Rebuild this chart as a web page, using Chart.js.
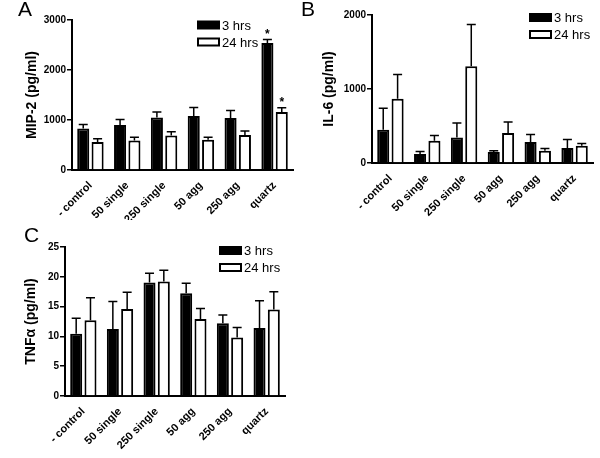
<!DOCTYPE html>
<html>
<head>
<meta charset="utf-8">
<script src="https://cdn.jsdelivr.net/npm/chart.js@4"></script>
<style>
  body { margin: 0; background: #fff; }
  #wrap { position: relative; width: 600px; height: 458px; background: #fff; font-family: "Liberation Sans", Arial, sans-serif; }
  .panel { position: absolute; }
  .letter { position: absolute; font-size: 21px; color: #000; }
</style>
</head>
<body>
<div id="wrap">
  <div class="panel" style="left:0;top:0"><canvas id="chartA" width="300" height="220"></canvas></div>
  <div class="panel" style="left:300px;top:0"><canvas id="chartB" width="300" height="220"></canvas></div>
  <div class="panel" style="left:0;top:220px"><canvas id="chartC" width="300" height="238"></canvas></div>
  <div class="letter" style="left:18px;top:-3px">A</div>
  <div class="letter" style="left:301px;top:-3px">B</div>
  <div class="letter" style="left:24px;top:223px">C</div>
</div>
<script>
// groups along the x axis (same for all three panels)
var categories = ["- control", "50 single", "250 single", "50 agg", "250 agg", "quartz"];
var seriesNames = ["3 hrs", "24 hrs"];

// A: MIP-2 (pg/ml)
var mip3 = [830, 900, 1050, 1080, 1040, 2540];
var mip3Err = [80, 110, 110, 170, 150, 70];
var mip24 = [560, 590, 690, 605, 700, 1160];
var mip24Err = [65, 65, 75, 50, 80, 85];
var mip3Star = ["", "", "", "", "", "*"];
var mip24Star = ["", "", "", "", "", "*"];

// B: IL-6 (pg/ml)
var il3 = [450, 120, 345, 148, 283, 202];
var il3Err = [290, 37, 195, 18, 103, 117];
var il24 = [867, 301, 1309, 405, 166, 233];
var il24Err = [328, 71, 561, 148, 31, 32];

// C: TNFa (pg/ml)
var tnf3 = [10.45, 11.25, 19.05, 17.25, 12.2, 11.4];
var tnf3Err = [2.6, 4.6, 1.55, 1.65, 1.4, 4.6];
var tnf24 = [12.7, 14.6, 19.2, 12.9, 9.8, 14.5];
var tnf24Err = [3.8, 2.8, 1.9, 1.8, 1.7, 3.0];

// draws the upper error bars and the stars above them
var errorBarPlugin = {
    id: "errorBars",
    afterDatasetsDraw: function (chart) {
        var ctx = chart.ctx;
        var yScale = chart.scales.y;
        ctx.save();
        ctx.strokeStyle = "#000";
        ctx.lineWidth = 1.5;
        chart.data.datasets.forEach(function (ds, di) {
            var meta = chart.getDatasetMeta(di);
            meta.data.forEach(function (bar, i) {
                var top = yScale.getPixelForValue(ds.data[i] + ds.errors[i]);
                ctx.beginPath();
                ctx.moveTo(bar.x, bar.y);
                ctx.lineTo(bar.x, top);
                ctx.moveTo(bar.x - 4.5, top);
                ctx.lineTo(bar.x + 4.5, top);
                ctx.stroke();
                if (ds.stars && ds.stars[i]) {
                    ctx.fillStyle = "#000";
                    ctx.font = "bold 12px 'Liberation Sans', Arial";
                    ctx.textAlign = "center";
                    ctx.fillText(ds.stars[i], bar.x, top - 2);
                }
            });
        });
        ctx.restore();
    }
};

// small legend in the upper right of the plot area
var boxLegendPlugin = {
    id: "boxLegend",
    afterDraw: function (chart, args, opts) {
        var ctx = chart.ctx;
        var area = chart.chartArea;
        var x = area.right - opts.fromRight;
        ctx.save();
        ctx.font = "13px 'Liberation Sans', Arial";
        ctx.textBaseline = "middle";
        chart.data.datasets.forEach(function (ds, di) {
            var y = area.top + opts.fromTop + di * opts.step;
            ctx.fillStyle = ds.backgroundColor;
            ctx.fillRect(x, y - 3.5, 21, 7);
            ctx.strokeStyle = "#000";
            ctx.lineWidth = 2;
            ctx.strokeRect(x, y - 3.5, 21, 7);
            ctx.fillStyle = "#000";
            ctx.fillText(ds.label, x + 24, y + 1);
        });
        ctx.restore();
    }
};

function makeChart(id, v3, e3, v24, e24, s3, s24, yMax, yStep, yTitle, box) {
    const data = {
        labels: categories,
        datasets: [
            {
                label: seriesNames[0],
                data: v3,
                errors: e3,
                stars: s3,
                backgroundColor: "#000",
                borderColor: "#000",
                borderWidth: 2,
                barPercentage: 0.84,
                categoryPercentage: 0.78
            },
            {
                label: seriesNames[1],
                data: v24,
                errors: e24,
                stars: s24,
                backgroundColor: "#fff",
                borderColor: "#000",
                borderWidth: 2,
                barPercentage: 0.84,
                categoryPercentage: 0.78
            }
        ]
    };

    const config = {
        type: "bar",
        data,
        plugins: [errorBarPlugin, boxLegendPlugin],
        options: {
            responsive: false,
            animation: false,
            layout: { padding: { left: 0, top: box.top, right: box.right, bottom: 0 } },
            plugins: {
                legend: { display: false },
                tooltip: { enabled: false },
                boxLegend: { fromRight: box.legendRight, fromTop: box.legendTop, step: 17 }
            },
            scales: {
                x: {
                    grid: { display: false },
                    border: { display: true, color: "#000", width: 2 },
                    ticks: {
                        color: "#000",
                        font: { family: "'Liberation Sans', Arial", size: 11, weight: "bold" },
                        maxRotation: 45,
                        minRotation: 45,
                        padding: 1
                    },
                    afterFit: function (s) { s.height = box.xHeight; }
                },
                y: {
                    min: 0,
                    max: yMax,
                    grid: { display: true, drawOnChartArea: false, drawTicks: true, tickLength: 5, color: "#000", lineWidth: 1.5 },
                    border: { display: true, color: "#000", width: 2 },
                    ticks: {
                        stepSize: yStep,
                        color: "#000",
                        font: { family: "'Liberation Sans', Arial", size: 10, weight: "bold" },
                        padding: 1,
                        callback: function (v) { return String(v); }
                    },
                    title: {
                        display: true,
                        text: yTitle,
                        color: "#000",
                        font: { family: "'Liberation Sans', Arial", size: 14, weight: "bold" },
                        padding: { top: box.titleX, bottom: 0 }
                    },
                    afterFit: function (s) { s.width = box.yWidth; }
                }
            }
        }
    };

    return new Chart(document.getElementById(id), config);
}

makeChart("chartA", mip3, mip3Err, mip24, mip24Err, mip3Star, mip24Star, 3000, 1000, "MIP-2 (pg/ml)",
    { top: 20, right: 7, xHeight: 50, yWidth: 72, titleX: 24, legendRight: 95, legendTop: 5 });
makeChart("chartB", il3, il3Err, il24, il24Err, null, null, 2000, 1000, "IL-6 (pg/ml)",
    { top: 15, right: 7, xHeight: 57, yWidth: 72, titleX: 21, legendRight: 63, legendTop: 2.5 });
makeChart("chartC", tnf3, tnf3Err, tnf24, tnf24Err, null, null, 25, 5, "TNF\u03b1 (pg/ml)",
    { top: 27, right: 15, xHeight: 62, yWidth: 65, titleX: 23, legendRight: 65, legendTop: 3.5 });
</script>
</body>
</html>
